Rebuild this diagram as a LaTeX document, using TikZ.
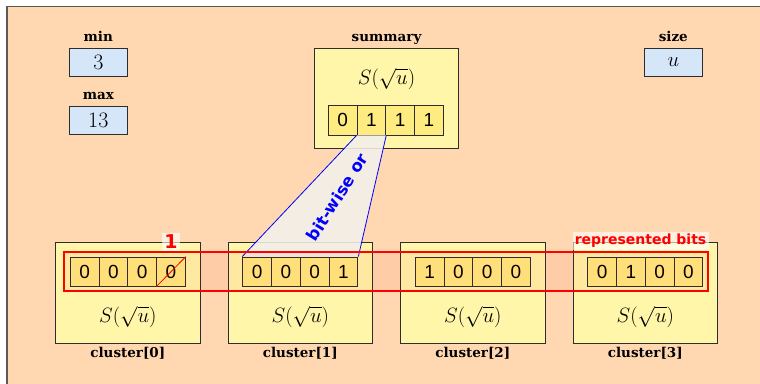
\documentclass[tikz,border=0pt]{standalone}
\usepackage{fontspec}
\newfontfamily\bitsfont{Liberation Sans}
\newfontfamily\dvs{DejaVu Sans}
\newfontfamily\lblfont{DejaVu Serif}
\definecolor{peach}{RGB}{255,216,178}
\definecolor{yel}{RGB}{255,246,170}
\definecolor{bitc}{RGB}{255,236,128}
\definecolor{bluec}{RGB}{213,230,248}
\definecolor{boxline}{RGB}{45,45,45}
\definecolor{framec}{RGB}{90,90,90}
\definecolor{trapc}{RGB}{242,240,236}
\tikzset{
  lbl/.style={font=\lblfont\bfseries\fontsize{13.5}{16}\selectfont, anchor=base, inner sep=0pt},
  numbox/.style={draw=boxline, line width=0.9pt, fill=bluec, minimum width=58pt, minimum height=28.7pt, inner sep=0pt, font=\fontsize{22}{26}\selectfont},
  ybox/.style={draw=boxline, line width=0.9pt, fill=yel, minimum width=144.4pt, minimum height=100.5pt, inner sep=0pt},
  bitcell/.style={draw=boxline, line width=0.9pt, fill=bitc, minimum width=28.8pt, minimum height=29.3pt, inner sep=0pt, font=\bitsfont\fontsize{19}{22}\selectfont},
  stext/.style={font=\fontsize{20}{24}\selectfont, inner sep=0pt},
  redbox/.style={draw=red, line width=2pt, fill=red, fill opacity=0.05, minimum width=643.7pt, minimum height=39.3pt, inner sep=0pt},
  redlbl/.style={fill=white, fill opacity=0.6, text opacity=1, text=red, inner sep=2.2pt},
  trap/.style={fill=trapc, fill opacity=0.88},
  bwline/.style={draw=blue, line width=0.8pt},
}
\begin{document}
\begin{tikzpicture}[x=1pt, y=-1pt]
\path[use as bounding box] (0,0) rectangle (760,383);
\clip (0,0) rectangle (760,383);
\fill[white] (0,0) rectangle (760,383);
\draw[draw=framec, line width=1.3pt, fill=peach] (7,6.5) rectangle (800,420);

% top registers
\node[lbl] (lmin) at (98.3,41.7) {min};
\node[numbox] (bmin) at (98.3,62.3) {3};
\node[lbl] (lmax) at (98.3,99.3) {max};
\node[numbox] (bmax) at (98.3,120.3) {13};
\node[lbl] (lsize) at (673.3,41.7) {size};
\node[numbox] (bsize) at (673.3,62.3) {$u$};

% summary
\node[lbl] (lsum) at (386.5,41.7) {summary};
\node[ybox] (sum) at (386.5,98.2) {};
\node[stext] (ssum) at (386.5,79) {$S(\sqrt{u})$};
\foreach \v [count=\i from 0] in {0,1,1,1}
  \node[bitcell] (s\i) at ({385.8+(\i-1.5)*28.8},120.3) {\v};

% clusters
\node[ybox] (c0) at (127.8,292.7) {};
\node[ybox] (c1) at (300.3,292.7) {};
\node[ybox] (c2) at (472.8,292.7) {};
\node[ybox] (c3) at (645.3,292.7) {};
\foreach \k in {0,1,2,3}{
  \node[stext] (sc\k) at ({127.8+172.5*\k},317) {$S(\sqrt{u})$};
  \node[lbl] (lc\k) at ({127.8+172.5*\k},357.5) {cluster[\k]};
}
\foreach \v [count=\i from 0] in {0,0,0,0}
  \node[bitcell] (k0\i) at ({127.8+(\i-1.5)*28.8},271.7) {\v};
\foreach \v [count=\i from 0] in {0,0,0,1}
  \node[bitcell] (k1\i) at ({300.3+(\i-1.5)*28.8},271.7) {\v};
\foreach \v [count=\i from 0] in {1,0,0,0}
  \node[bitcell] (k2\i) at ({472.8+(\i-1.5)*28.8},271.7) {\v};
\foreach \v [count=\i from 0] in {0,1,0,0}
  \node[bitcell] (k3\i) at ({645.3+(\i-1.5)*28.8},271.7) {\v};

% bit-wise or funnel
\fill[trap] (s1.south west) -- (s1.south east) -- (k13.north east) -- (k10.north west) -- cycle;
\draw[bwline] (s1.south west) -- (k10.north west);
\draw[bwline] (s1.south east) -- (k13.north east);
\node[rotate=58, text=blue, font=\dvs\bfseries\fontsize{16.5}{19}\selectfont, inner sep=0pt] (bw) at (337,197) {bit-wise or};

% represented bits
\node[redbox] (rb) at (385.85,271.65) {};
\draw[red, line width=0.8pt] (k03.south west) -- (k03.north east);
\node[redlbl, anchor=south, font=\dvs\bfseries\fontsize{19}{22}\selectfont] (one) at (k03.center |- rb.north) {1};
\node[redlbl, anchor=south east, font=\dvs\bfseries\fontsize{14}{17}\selectfont] (rbl) at ([yshift=1pt]rb.north east) {represented bits};
\end{tikzpicture}
\end{document}
